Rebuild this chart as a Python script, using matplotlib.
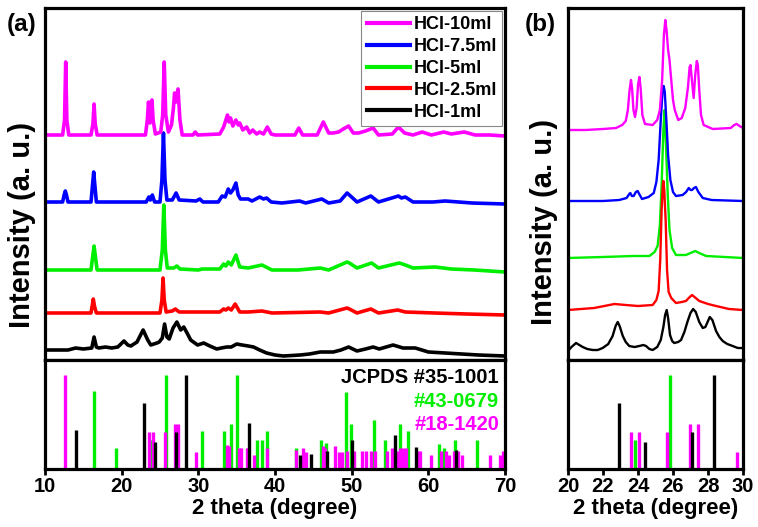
import numpy as np
import matplotlib
matplotlib.use('Agg')
import matplotlib.pyplot as plt

plt.rcParams['font.family'] = ['Liberation Sans', 'DejaVu Sans']
plt.rcParams['font.weight'] = 'bold'

# sample names, top to bottom in the legend
labels = ['HCl-10ml', 'HCl-7.5ml', 'HCl-5ml', 'HCl-2.5ml', 'HCl-1ml']
colors = ['#ff00ff', '#0000ff', '#00ee00', '#ff0000', '#000000']

# panel (a) patterns, (2theta, intensity incl. offset)
mag_a = [(10, 225), (12.3, 225), (12.55, 240), (12.7, 298), (12.85, 240), (13.1, 225),
         (16.0, 225), (16.25, 236), (16.4, 256), (16.55, 236), (16.8, 225), (23.1, 225),
         (23.35, 240), (23.5, 258), (23.7, 237), (23.95, 260), (24.1, 240), (24.4, 226),
         (25.1, 228), (25.35, 245), (25.55, 298), (25.75, 245), (26.1, 228), (26.5, 235),
         (26.75, 252), (26.9, 267), (27.1, 258), (27.35, 271), (27.6, 240), (27.9, 225),
         (29.3, 225), (29.6, 228), (29.9, 225), (32.8, 226), (33.3, 233), (33.8, 245),
         (34.0, 238), (34.2, 242), (34.5, 234), (34.9, 240), (35.2, 235), (35.4, 237),
         (35.8, 230), (36.3, 233), (36.7, 227), (37.1, 230), (37.6, 226), (38.0, 228),
         (38.5, 226), (39.0, 233), (39.5, 226), (40.0, 225), (42.6, 225), (43.1, 232),
         (43.6, 225), (45.5, 225), (46.3, 238), (47.0, 227), (47.6, 227), (48.3, 228),
         (48.9, 231), (49.6, 234), (50.2, 227), (50.9, 227), (51.8, 229), (52.8, 232),
         (53.5, 225), (55.3, 226), (56.1, 233), (56.9, 227), (58.0, 225), (59.2, 228),
         (60.4, 225), (62.0, 228), (63.0, 226), (64.7, 228), (66.1, 225), (68.0, 225), (70, 224)]
blue_a = [(10, 158), (12.3, 158), (12.5, 165), (12.65, 169), (12.8, 165), (13.0, 158),
          (16.0, 158), (16.2, 175), (16.35, 188), (16.5, 175), (16.7, 158), (23.2, 158),
          (23.55, 163), (23.75, 160), (24.0, 165), (24.3, 158), (25.0, 158), (25.25, 180),
          (25.45, 227), (25.65, 180), (25.9, 160), (26.6, 160), (27.1, 167), (27.5, 160),
          (29.7, 159), (30.2, 161), (30.6, 158), (32.6, 158), (33.1, 164), (33.5, 163),
          (33.9, 171), (34.2, 167), (34.5, 170), (34.9, 177), (35.2, 165), (35.5, 161),
          (36.5, 161), (37.0, 159), (38.0, 163), (38.5, 161), (38.9, 162), (39.5, 158),
          (40.9, 157), (43.2, 159), (44.0, 157), (46.1, 161), (47.0, 157), (48.5, 159),
          (49.4, 167), (49.7, 165), (50.7, 158), (52.5, 164), (53.5, 158), (56.1, 164),
          (56.5, 162), (57.0, 163), (58.0, 158), (60.6, 158), (62.2, 159), (65.7, 157), (70, 156)]
green_a = [(10, 90), (16.0, 90), (16.2, 102), (16.4, 114), (16.6, 102), (16.8, 90),
           (25.0, 90), (25.3, 110), (25.5, 155), (25.7, 110), (25.95, 92), (26.8, 92),
           (27.2, 94), (27.6, 91), (30.0, 90), (30.5, 91), (32.8, 91), (33.3, 96),
           (33.6, 94), (33.9, 98), (34.3, 95), (34.9, 105), (35.4, 93), (36.5, 92),
           (38.3, 95), (39.6, 90), (43.0, 90), (45.9, 92), (47.0, 90), (49.4, 98),
           (49.7, 97), (50.7, 92), (52.6, 97), (53.5, 92), (56.2, 97), (57.0, 95),
           (58.0, 92), (60.9, 93), (63.0, 91), (66.0, 90), (70, 88)]
red_a = [(10, 47), (16.0, 47), (16.15, 54), (16.3, 61), (16.45, 54), (16.7, 47),
         (25.0, 47), (25.25, 60), (25.4, 82), (25.55, 60), (25.8, 48), (26.6, 49),
         (27.0, 51), (27.5, 48), (32.8, 48), (33.3, 51), (33.6, 50), (33.9, 52),
         (34.3, 50), (34.8, 56), (35.4, 48), (36.5, 48), (38.3, 49), (39.6, 47),
         (45.9, 48), (47.0, 47), (49.4, 52), (49.7, 51), (50.7, 47), (52.5, 51),
         (53.5, 47), (56.0, 50), (57.0, 48), (60.8, 47), (65.0, 46), (70, 45)]
black_a = [(10, 10), (13.0, 10), (14.0, 12), (15.0, 11), (16.1, 12), (16.4, 23), (16.7, 13),
           (17.0, 12), (17.9, 13), (18.7, 12), (19.5, 13), (20.3, 19), (20.8, 15), (21.2, 14),
           (22.0, 18), (22.8, 30), (23.4, 20), (23.8, 15), (24.6, 17), (24.9, 18), (25.3, 22),
           (25.6, 36), (25.9, 23), (26.2, 21), (26.7, 32), (27.2, 38), (27.7, 30), (28.1, 33),
           (28.6, 26), (29.0, 20), (29.9, 15), (30.7, 17), (31.5, 14), (32.4, 11), (33.0, 12),
           (33.7, 13), (34.3, 13), (35.0, 16), (35.7, 15), (36.5, 14), (37.2, 13), (38.0, 10),
           (38.9, 7), (40.0, 5), (41.1, 4), (43.3, 5), (44.5, 6), (45.9, 8), (47.6, 8),
           (48.6, 10), (49.6, 13), (50.7, 9), (51.8, 11), (52.8, 13), (53.6, 11), (55.4, 15),
           (56.7, 12), (58.3, 12), (60.0, 8), (62.2, 7), (66.5, 5), (70, 4)]

# panel (b) zoom 20-30 degree
mag_b = [(20.0, 230), (21.0, 230), (22.0, 231), (22.74, 232), (23.1, 235), (23.3, 239),
         (23.42, 250), (23.52, 270), (23.6, 280), (23.66, 272), (23.74, 250), (23.83, 243),
         (23.92, 252), (24.0, 275), (24.08, 283), (24.15, 272), (24.25, 245), (24.4, 236),
         (24.84, 235), (25.1, 240), (25.25, 250), (25.38, 280), (25.48, 325), (25.56, 340),
         (25.63, 330), (25.72, 310), (25.8, 300), (25.9, 280), (26.0, 260), (26.1, 250),
         (26.3, 240), (26.5, 242), (26.7, 252), (26.85, 272), (26.95, 293), (27.0, 295),
         (27.08, 280), (27.18, 262), (27.27, 285), (27.36, 299), (27.42, 295), (27.5, 270),
         (27.6, 245), (27.75, 235), (28.27, 231), (29.3, 232), (29.5, 235), (29.64, 236),
         (29.8, 234), (30.0, 232)]
blue_b = [(20.0, 159), (22.0, 159), (22.93, 160), (23.35, 162), (23.5, 166), (23.56, 167),
          (23.65, 164), (23.75, 164), (23.88, 168), (23.98, 169), (24.1, 165), (24.23, 161),
          (24.6, 163), (24.9, 167), (25.05, 178), (25.18, 200), (25.3, 240), (25.4, 268),
          (25.47, 274), (25.53, 268), (25.62, 240), (25.72, 205), (25.85, 180), (26.0, 168),
          (26.17, 164), (26.55, 165), (26.75, 168), (26.9, 172), (27.0, 170), (27.09, 170),
          (27.2, 172), (27.31, 173), (27.45, 168), (27.7, 162), (28.2, 160), (30.0, 159)]
green_b = [(20.0, 102), (22.0, 103), (23.7, 104), (24.65, 104), (24.95, 108), (25.12, 114),
           (25.25, 135), (25.35, 175), (25.45, 230), (25.52, 250), (25.6, 215), (25.7, 165),
           (25.8, 130), (25.95, 112), (26.17, 105), (26.74, 105), (27.0, 107), (27.27, 109),
           (27.5, 107), (27.89, 104), (30.0, 102)]
red_b = [(20.0, 50), (21.5, 52), (22.65, 56), (23.3, 55), (24.0, 54), (24.84, 55), (25.05, 60),
         (25.18, 69), (25.27, 100), (25.35, 150), (25.42, 175), (25.45, 179), (25.5, 170),
         (25.58, 140), (25.66, 90), (25.75, 68), (25.9, 62), (26.17, 57), (26.5, 58),
         (26.74, 59), (26.9, 62), (27.09, 65), (27.3, 62), (27.5, 59), (28.0, 56),
         (28.46, 54), (29.2, 51), (30.0, 50)]
black_b = [(20.0, 9), (20.2, 13), (20.46, 17), (20.65, 15), (20.84, 13), (21.1, 11), (21.41, 10),
           (21.7, 10), (21.98, 12), (22.3, 16), (22.55, 24), (22.72, 34), (22.84, 38), (22.95, 34),
           (23.13, 24), (23.3, 18), (23.5, 14), (23.8, 13), (24.08, 14), (24.3, 15), (24.46, 14),
           (24.65, 11), (24.84, 10), (25.1, 13), (25.3, 20), (25.45, 33), (25.55, 45), (25.64, 50),
           (25.72, 42), (25.83, 25), (25.95, 19), (26.07, 17), (26.3, 18), (26.46, 20), (26.65, 28),
           (26.84, 39), (27.0, 47), (27.15, 51), (27.3, 48), (27.5, 38), (27.7, 32), (27.85, 33),
           (28.0, 39), (28.1, 43), (28.25, 40), (28.46, 29), (28.65, 23), (28.84, 19), (29.1, 16),
           (29.41, 14), (29.7, 12), (30.0, 12)]

# reference cards (position, relative intensity)
card_35_1001 = [(14.0, 41), (22.9, 70), (24.38, 29), (27.07, 39), (28.36, 100), (36.6, 49),
                (43.3, 15), (44.7, 16), (46.8, 19), (50.1, 31), (55.7, 36), (58.4, 23), (63.6, 20)]
card_43_0679 = [(16.4, 83), (19.2, 22), (23.83, 31), (25.83, 100), (30.5, 40), (33.4, 40),
                (34.2, 48), (35.1, 100), (37.6, 31), (38.3, 31), (38.9, 40), (42.7, 22),
                (46.0, 31), (46.6, 28), (49.3, 82), (49.9, 48), (52.9, 52), (54.4, 31),
                (56.3, 48), (57.4, 40), (61.4, 27), (62.0, 22), (63.5, 31), (66.3, 31)]
card_18_1420 = [(12.6, 100), (23.6, 39), (24.04, 39), (25.66, 39), (26.95, 48), (27.4, 48),
                (29.64, 18), (33.8, 26), (34.0, 24), (35.3, 22), (35.6, 22), (36.3, 22),
                (36.5, 22), (37.3, 15), (39.0, 22), (42.8, 20), (43.7, 22), (44.1, 18),
                (46.2, 24), (46.5, 22), (47.8, 24), (48.3, 18), (48.7, 18), (49.4, 19),
                (50.3, 19), (51.3, 19), (51.9, 19), (52.5, 19), (53.0, 19), (54.6, 19),
                (55.3, 22), (55.9, 19), (56.3, 22), (56.7, 22), (57.1, 22), (58.6, 19),
                (58.9, 19), (60.3, 15), (61.6, 19), (62.3, 19), (62.7, 15), (63.3, 19),
                (63.9, 19), (64.4, 15), (68.1, 15), (69.4, 15), (69.8, 19)]
cards = [card_43_0679, card_18_1420, card_35_1001]
card_colors = ['#00ee00', '#ff00ff', '#000000']

fig = plt.figure(figsize=(7.58, 5.27), dpi=100)
W, H = 758.0, 527.0


def box(x0, x1, y0, y1):
    return [x0 / W, 1 - y1 / H, (x1 - x0) / W, (y1 - y0) / H]


ax_a = fig.add_axes(box(45, 505, 8, 360))
ax_a2 = fig.add_axes(box(45, 505, 360, 469))
ax_b = fig.add_axes(box(568, 743, 8, 360))
ax_b2 = fig.add_axes(box(568, 743, 360, 469))

curves_a = [mag_a, blue_a, green_a, red_a, black_a]
curves_b = [mag_b, blue_b, green_b, red_b, black_b]

handles = []
for i in [4, 3, 2, 1, 0]:
    d = np.array(curves_a[i])
    h, = ax_a.plot(d[:, 0], d[:, 1], color=colors[i], lw=2.6, label=labels[i])
    handles.append(h)
handles = handles[::-1]

for i in [4, 2, 3, 1, 0]:
    d = np.array(curves_b[i])
    ax_b.plot(d[:, 0], d[:, 1], color=colors[i], lw=1.7)

for ax2, lo, hi in [(ax_a2, 10, 70), (ax_b2, 20, 30)]:
    for c, col in zip(cards, card_colors):
        d = np.array([p for p in c if lo <= p[0] <= hi])
        ax2.vlines(d[:, 0], 0, d[:, 1], color=col, lw=2.4)
    ax2.set_ylim(0, 116)
    ax2.set_xlim(lo, hi)
    ax2.set_yticks([])

for ax in [ax_a, ax_b]:
    ax.set_ylim(0, 352)
    ax.set_yticks([])
    ax.tick_params(axis='x', labelbottom=False, direction='out', length=4, width=2)

ax_a.set_xlim(10, 70)
ax_b.set_xlim(20, 30)
ax_a.set_xticks(np.arange(10, 71, 5))
ax_b.set_xticks(np.arange(20, 31, 2))
ax_a2.set_xticks(np.arange(10, 71, 10))
ax_b2.set_xticks(np.arange(20, 31, 2))

for ax in [ax_a, ax_a2, ax_b, ax_b2]:
    for s in ax.spines.values():
        s.set_linewidth(2.3)
for ax in [ax_a2, ax_b2]:
    ax.tick_params(axis='x', direction='out', length=4, width=2, labelsize=14.5, pad=2)
    ax.set_xlabel('2 theta (degree)', fontsize=16, fontweight='bold', labelpad=1)
    for t in ax.get_xticklabels():
        t.set_fontweight('bold')

fig.text(22 / W, 1 - 225 / H, 'Intensity (a. u.)', rotation=90, ha='center', va='center',
         fontsize=21, fontweight='bold')
fig.text(544 / W, 1 - 222 / H, 'Intensity (a. u.)', rotation=90, ha='center', va='center',
         fontsize=21, fontweight='bold')
fig.text(7 / W, 1 - 24 / H, '(a)', ha='left', va='center', fontsize=17.5, fontweight='bold')
fig.text(525 / W, 1 - 24 / H, '(b)', ha='left', va='center', fontsize=17.5, fontweight='bold')

leg = ax_a.legend(handles=handles, loc='upper right', bbox_to_anchor=(1.0, 1.0),
                  prop={'weight': 'bold', 'size': 13}, handlelength=2.4,
                  handletextpad=0.2, labelspacing=0.27, borderpad=0.3,
                  borderaxespad=0.15, fancybox=False, framealpha=1)
leg.get_frame().set_edgecolor('#888888')
leg.get_frame().set_linewidth(0.8)
for ln in leg.get_lines():
    ln.set_linewidth(3)

ax_a2.text(0.987, 0.835, 'JCPDS #35-1001', transform=ax_a2.transAxes, ha='right', va='center',
           fontsize=14.5, fontweight='bold', color='black')
ax_a2.text(0.987, 0.615, '#43-0679', transform=ax_a2.transAxes, ha='right', va='center',
           fontsize=14.5, fontweight='bold', color='#00ee00')
ax_a2.text(0.987, 0.404, '#18-1420', transform=ax_a2.transAxes, ha='right', va='center',
           fontsize=14.5, fontweight='bold', color='#ff00ff')

fig.savefig('out.png', dpi=100)
